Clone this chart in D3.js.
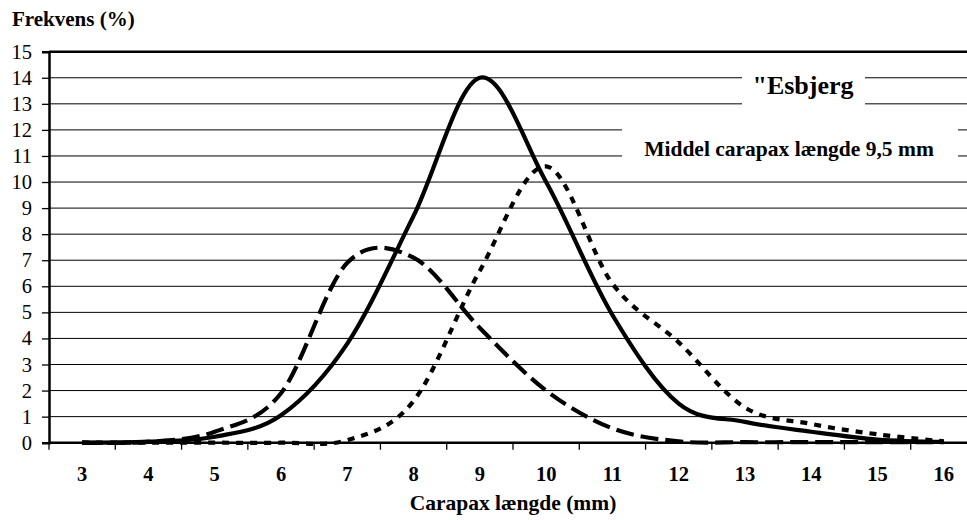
<!DOCTYPE html>
<html>
<head>
<meta charset="utf-8">
<script src="https://cdn.jsdelivr.net/npm/d3@7/dist/d3.min.js"></script>
<style>
  html, body { margin: 0; padding: 0; background: #fff; }
  svg { display: block; font-family: "Liberation Serif", "Times New Roman", serif; }
</style>
</head>
<body>
<svg id="chart" width="967" height="520"></svg>
<script>
// Carapax length classes (mm)
const lengths = [3, 4, 5, 6, 7, 8, 9, 10, 11, 12, 13, 14, 15, 16];
// Frequency (%) per length class for the three samples
const solidSeries  = [0.0, 0.04, 0.23, 1.05, 3.8, 8.7, 14.0, 10.0, 4.9, 1.5, 0.8, 0.42, 0.12, 0.03];
const dashedSeries = [0.0, 0.03, 0.42, 1.9, 6.9, 7.1, 4.4, 2.0, 0.55, 0.05, 0.02, 0.02, 0.02, 0.02];
const dottedSeries = [0.0, 0.0, 0.0, 0.0, 0.1, 1.6, 6.6, 10.6, 6.1, 3.85, 1.35, 0.72, 0.32, 0.05];
// Y axis ticks
const yTicks = d3.range(0, 16);

const yLabel = "Frekvens (%)";
const xLabel = "Carapax længde (mm)";
const stationLabel = "\"Esbjerg";
const meanLabel = "Middel carapax længde 9,5 mm";

const svg = d3.select("#chart");
const plotLeft = 49, plotRight = 977, plotTop = 51.7, plotBottom = 442.7;

const x = d3.scaleBand().domain(lengths).range([plotLeft, plotRight]).padding(0);
const y = d3.scaleLinear().domain([0, 15]).range([plotBottom, plotTop]);

// Horizontal gridlines
svg.append("g")
  .selectAll("line")
  .data(yTicks.filter(t => t > 0 && t < 15))
  .join("line")
  .attr("x1", plotLeft).attr("x2", plotRight)
  .attr("y1", d => y(d)).attr("y2", d => y(d))
  .attr("stroke", "#000").attr("stroke-width", 1);

// Top border
svg.append("line")
  .attr("x1", plotLeft).attr("x2", plotRight)
  .attr("y1", y(15)).attr("y2", y(15))
  .attr("stroke", "#000").attr("stroke-width", 2.5);

// Y axis
const yAxis = d3.axisLeft(y).tickValues(yTicks).tickSize(7).tickPadding(10).tickFormat(d3.format("d"));
const gy = svg.append("g").attr("transform", `translate(${plotLeft},0)`).call(yAxis);
gy.select(".domain").attr("stroke-width", 2.5).attr("stroke", "#000");
gy.selectAll(".tick line").attr("stroke-width", 1.3).attr("stroke", "#000");
gy.selectAll(".tick text")
  .attr("font-family", "Liberation Serif, Times New Roman, serif")
  .attr("font-size", 20.5).attr("fill", "#000");

// X axis: ticks at class boundaries, labels at class centres
svg.append("line")
  .attr("x1", plotLeft).attr("x2", plotRight)
  .attr("y1", plotBottom).attr("y2", plotBottom)
  .attr("stroke", "#000").attr("stroke-width", 2.5);
svg.append("g")
  .selectAll("line")
  .data(lengths)
  .join("line")
  .attr("x1", d => x(d)).attr("x2", d => x(d))
  .attr("y1", plotBottom).attr("y2", plotBottom + 7)
  .attr("stroke", "#000").attr("stroke-width", 1.3);
svg.append("g")
  .selectAll("text")
  .data(lengths)
  .join("text")
  .attr("x", d => x(d) + x.bandwidth() / 2)
  .attr("y", 481)
  .attr("text-anchor", "middle")
  .attr("font-size", 20.5).attr("font-weight", "bold")
  .text(d => d);

// Axis titles
svg.append("text")
  .attr("x", 12).attr("y", 26)
  .attr("font-size", 21).attr("font-weight", "bold")
  .text(yLabel);
svg.append("text")
  .attr("x", (plotLeft + plotRight) / 2).attr("y", 510)
  .attr("text-anchor", "middle")
  .attr("font-size", 21.5).attr("font-weight", "bold")
  .text(xLabel);

// Text boxes
svg.append("rect").attr("x", 742).attr("y", 62).attr("width", 123).attr("height", 52).attr("fill", "#fff");
svg.append("text")
  .attr("x", 803).attr("y", 94)
  .attr("text-anchor", "middle")
  .attr("font-size", 26).attr("font-weight", "bold")
  .text(stationLabel);
svg.append("rect").attr("x", 622).attr("y", 118).attr("width", 336).attr("height", 52).attr("fill", "#fff");
svg.append("text")
  .attr("x", 789).attr("y", 156)
  .attr("text-anchor", "middle")
  .attr("font-size", 21.5).attr("font-weight", "bold")
  .text(meanLabel);

// Smoothed frequency curves
const line = d3.line()
  .x((d, i) => x(lengths[i]) + x.bandwidth() / 2)
  .y(d => y(d))
  .curve(d3.curveCardinal.tension(0));

const series = [
  { values: dashedSeries, dash: "18,7" },
  { values: dottedSeries, dash: "7,7" },
  { values: solidSeries, dash: null }
];
svg.append("g")
  .selectAll("path")
  .data(series)
  .join("path")
  .attr("d", d => line(d.values))
  .attr("fill", "none")
  .attr("stroke", "#000")
  .attr("stroke-width", 4.2)
  .attr("stroke-dasharray", d => d.dash);
</script>
</body>
</html>
